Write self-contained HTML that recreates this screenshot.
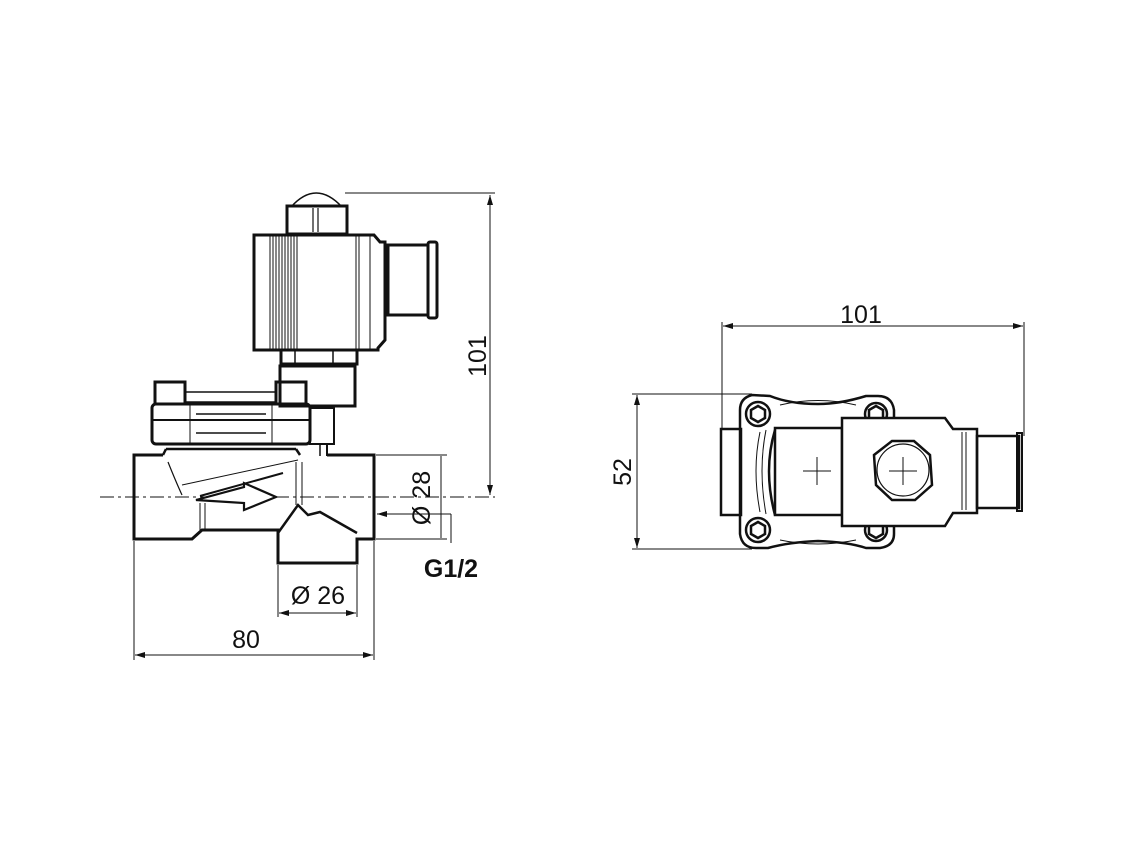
<!DOCTYPE html>
<html><head><meta charset="utf-8"><style>
html,body{margin:0;padding:0;background:#fff;}
svg{display:block;}
text{font-family:"Liberation Sans",Arial,sans-serif;fill:#111;}
</style></head><body>
<svg width="1134" height="851" viewBox="0 0 1134 851" xmlns="http://www.w3.org/2000/svg">
<defs>
<marker id="ar" viewBox="0 0 10 6" refX="10" refY="3" markerWidth="10" markerHeight="6" orient="auto-start-reverse" markerUnits="userSpaceOnUse"><path d="M0,0 L10,3 L0,6 z" fill="#111"/></marker>
</defs>
<g stroke="#111" fill="none">
<!-- ===== LEFT VIEW ===== -->
<line x1="100" y1="497" x2="495" y2="497" stroke-width="1" stroke-dasharray="14,4,3,4"/>
<path d="M291,207 Q316,179 342,207" stroke-width="1.5"/>
<rect x="287" y="206" width="60" height="28" stroke-width="3"/>
<line x1="313" y1="208" x2="313" y2="232" stroke-width="1.2"/><line x1="318" y1="208" x2="318" y2="232" stroke-width="1.2"/>
<path d="M254,235 L374,235 L380,242 L385,242 L385,340 L378,348 L378,350 L254,350 Z" stroke-width="3"/>
<g stroke-width="1">
<line x1="270" y1="236" x2="270" y2="349"/><line x1="273" y1="236" x2="273" y2="349"/><line x1="276" y1="236" x2="276" y2="349"/><line x1="279" y1="236" x2="279" y2="349"/><line x1="282" y1="236" x2="282" y2="349"/><line x1="285" y1="236" x2="285" y2="349"/><line x1="288" y1="236" x2="288" y2="349"/><line x1="291" y1="236" x2="291" y2="349"/><line x1="294" y1="236" x2="294" y2="349"/><line x1="297" y1="236" x2="297" y2="349"/>
<line x1="356" y1="236" x2="356" y2="349"/><line x1="359" y1="236" x2="359" y2="349"/><line x1="370" y1="236" x2="370" y2="349"/>
</g>
<rect x="388" y="245" width="40" height="70" stroke-width="3"/>
<rect x="428" y="242" width="9" height="76" rx="2" stroke-width="3"/>
<rect x="281" y="350" width="76" height="14" stroke-width="3"/>
<line x1="295" y1="350" x2="295" y2="364" stroke-width="1.5"/><line x1="333" y1="350" x2="333" y2="364" stroke-width="1.5"/>
<rect x="280" y="366" width="75" height="40" stroke-width="3"/>
<rect x="155" y="382" width="30" height="22" stroke-width="3"/>
<rect x="276" y="382" width="30" height="22" stroke-width="3"/>
<line x1="185" y1="392" x2="276" y2="392" stroke-width="1.5"/><line x1="185" y1="402" x2="276" y2="402" stroke-width="1.5"/>
<rect x="152" y="404" width="158" height="40" rx="4" stroke-width="3"/>
<line x1="152" y1="420" x2="310" y2="420" stroke-width="2"/>
<line x1="196" y1="414" x2="266" y2="414" stroke-width="1.5"/><line x1="196" y1="433" x2="266" y2="433" stroke-width="1.5"/>
<line x1="190" y1="405" x2="190" y2="444" stroke-width="1"/><line x1="272" y1="405" x2="272" y2="444" stroke-width="1"/>
<rect x="310" y="408" width="24" height="36" stroke-width="2"/>
<line x1="320" y1="444" x2="320" y2="456" stroke-width="1.5"/><line x1="327" y1="444" x2="327" y2="456" stroke-width="2"/>
<line x1="166" y1="449" x2="296" y2="449" stroke-width="2.5"/>
<!-- body -->
<path d="M163,455 L134,455 L134,539 L192,539 L202,530 L278,530 L278,563 L357,563 L357,539 L374,539 L374,455 L327,455" stroke-width="3"/>
<line x1="163" y1="455" x2="166" y2="449" stroke-width="2.5"/>
<line x1="296" y1="449" x2="300" y2="455" stroke-width="2.5"/>
<path d="M278,533 L298,505 L308,515 L320,512 L357,533" stroke-width="2.5"/>
<path d="M168,462 Q176,482 182,495" stroke-width="1.2"/>
<line x1="182" y1="485" x2="298" y2="460" stroke-width="1"/>
<line x1="296" y1="462" x2="296" y2="505" stroke-width="1"/><line x1="302" y1="462" x2="302" y2="505" stroke-width="1"/>
<line x1="200" y1="503" x2="200" y2="530" stroke-width="1"/><line x1="205" y1="503" x2="205" y2="530" stroke-width="1"/>
<path d="M196,500 L244,487 L244,483 L276,497 L244,510 L244,503 Z" stroke-width="2.2" fill="#fff"/>
<line x1="200" y1="496" x2="283" y2="473" stroke-width="2"/>
<!-- dims left -->
<line x1="345" y1="193" x2="495" y2="193" stroke-width="1"/>
<line x1="490" y1="195" x2="490" y2="495" stroke-width="1" marker-start="url(#ar)" marker-end="url(#ar)"/>
<line x1="376" y1="455" x2="447" y2="455" stroke-width="1"/><line x1="376" y1="539" x2="447" y2="539" stroke-width="1"/>
<line x1="441" y1="456" x2="441" y2="538" stroke-width="1"/>
<line x1="451" y1="514" x2="377" y2="514" stroke-width="1" marker-end="url(#ar)"/>
<line x1="451" y1="514" x2="451" y2="543" stroke-width="1"/>
<line x1="278" y1="565" x2="278" y2="617" stroke-width="1"/><line x1="357" y1="565" x2="357" y2="617" stroke-width="1"/>
<line x1="279" y1="613" x2="356" y2="613" stroke-width="1" marker-start="url(#ar)" marker-end="url(#ar)"/>
<line x1="134" y1="541" x2="134" y2="660" stroke-width="1"/><line x1="374" y1="541" x2="374" y2="660" stroke-width="1"/>
<line x1="135" y1="655" x2="373" y2="655" stroke-width="1" marker-start="url(#ar)" marker-end="url(#ar)"/>

<!-- ===== RIGHT VIEW ===== -->
<line x1="722" y1="322" x2="722" y2="428" stroke-width="1"/><line x1="1024" y1="322" x2="1024" y2="436" stroke-width="1"/>
<line x1="723" y1="326" x2="1023" y2="326" stroke-width="1" marker-start="url(#ar)" marker-end="url(#ar)"/>
<line x1="632" y1="394" x2="752" y2="394" stroke-width="1"/><line x1="632" y1="549" x2="752" y2="549" stroke-width="1"/>
<line x1="637" y1="395" x2="637" y2="548" stroke-width="1" marker-start="url(#ar)" marker-end="url(#ar)"/>
<rect x="721" y="429" width="20" height="86" stroke-width="2.5"/>
<path d="M752,395 Q740,398 740,410 L740,534 Q742,548 756,548 L768,548 Q790,542 818,541 Q848,542 866,548 L880,548 Q894,546 894,534 L894,410 Q892,396 878,396 L866,396 Q840,404 818,404 Q790,404 770,396 Z" stroke-width="2.5"/>
<path d="M760,432 Q752,470 760,512" stroke-width="1"/><path d="M766,430 Q758,470 766,514" stroke-width="1"/>
<path d="M780,405 Q818,396 856,405" stroke-width="1"/><path d="M780,540 Q818,548 856,540" stroke-width="1"/>
<path d="M775,430 Q763,470 775,515" stroke-width="2.5"/>
<rect x="775" y="428" width="67" height="87" stroke-width="2.5"/>
<circle cx="758" cy="414" r="12" stroke-width="2.5"/><polygon points="758,406 765,410 765,418 758,422 751,418 751,410" stroke-width="2.5"/>
<circle cx="876" cy="414" r="11" stroke-width="2.5"/><polygon points="876,406 883,410 883,418 876,422 869,418 869,410" stroke-width="2.5"/>
<circle cx="758" cy="530" r="12" stroke-width="2.5"/><polygon points="758,522 765,526 765,534 758,538 751,534 751,526" stroke-width="2.5"/>
<circle cx="876" cy="530" r="11" stroke-width="2.5"/><polygon points="876,522 883,526 883,534 876,538 869,534 869,526" stroke-width="2.5"/>
<path d="M842,418 L945,418 L953,429 L977,429 L977,513 L953,513 L945,526 L842,526 Z" stroke-width="2.5" fill="#fff"/>
<line x1="962" y1="432" x2="962" y2="510" stroke-width="1"/><line x1="966" y1="432" x2="966" y2="510" stroke-width="1"/>
<rect x="977" y="436" width="42" height="72" stroke-width="2.5"/>
<rect x="1017" y="433" width="5" height="78" stroke-width="2"/>
<polygon points="892,441 914,441 930,455 932,485 915,500 892,500 876,485 874,455" stroke-width="2.5"/>
<circle cx="903" cy="470" r="26" stroke-width="1.2"/>
<line x1="803" y1="471" x2="831" y2="471" stroke-width="1"/><line x1="817" y1="457" x2="817" y2="485" stroke-width="1"/>
<line x1="889" y1="471" x2="917" y2="471" stroke-width="1"/><line x1="903" y1="457" x2="903" y2="485" stroke-width="1"/>
</g>
<text x="0" y="0" font-size="25" text-anchor="middle" transform="translate(486,356) rotate(-90)">101</text>
<text x="0" y="0" font-size="25" text-anchor="middle" transform="translate(430,498) rotate(-90)">Ø 28</text>
<text x="451" y="577" font-size="25" font-weight="bold" text-anchor="middle">G1/2</text>
<text x="318" y="604" font-size="25" text-anchor="middle">Ø 26</text>
<text x="246" y="648" font-size="25" text-anchor="middle">80</text>
<text x="861" y="323" font-size="25" text-anchor="middle">101</text>
<text x="0" y="0" font-size="25" text-anchor="middle" transform="translate(631,472) rotate(-90)">52</text>
</svg>
</body></html>
